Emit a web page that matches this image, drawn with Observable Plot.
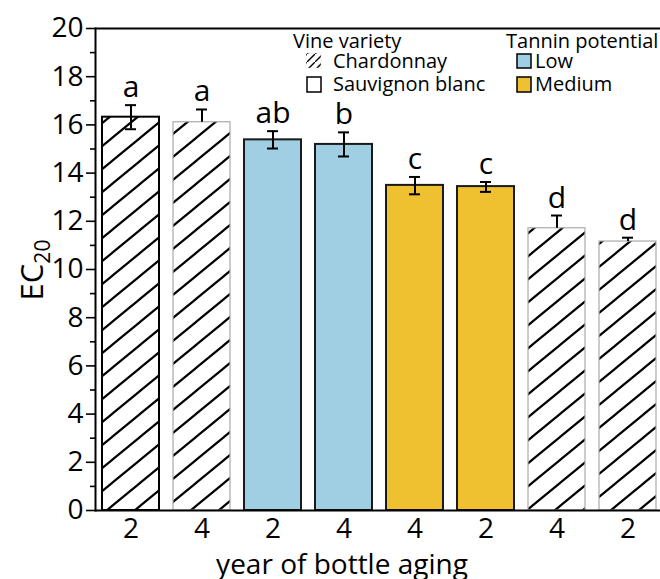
<!DOCTYPE html>
<html><head><meta charset="utf-8">
<script src="https://cdn.jsdelivr.net/npm/d3@7"></script>
<script src="https://cdn.jsdelivr.net/npm/@observablehq/plot@0.6"></script>
<style>
body{margin:0;background:#fff;}
#chart{position:relative;width:660px;height:579px;overflow:hidden;}
</style></head><body><div id="chart"></div>
<script>
const FONT = "'Open Sans', sans-serif";
const barIds = ["b1","b2","b3","b4","b5","b6","b7","b8"];
const yearLabels = ["2","4","2","4","4","2","4","2"];
const groups = ["Chardonnay","Chardonnay","Low","Low","Medium","Medium","Chardonnay","Chardonnay"];
const values = [16.32,16.11,15.38,15.19,13.49,13.44,11.71,11.16];
const errUp = [0.5,0.53,0.36,0.5,0.35,0.19,0.53,0.16];
const errDown = [0.5,0,0.36,0.5,0.37,0.22,0,0];
const letters = ["a","a","ab","b","c","c","d","d"];
const yTicks = [0,2,4,6,8,10,12,14,16,18,20];
const yMinor = [1,3,5,7,9,11,13,15,17,19];
const varietyTitle = "Vine variety";
const varietyLegend = ["Chardonnay","Sauvignon blanc"];
const tanninTitle = "Tannin potential";
const tanninLegend = ["Low","Medium"];
const colors = {Low: "#a0cfe3", Medium: "#efc02f"};
const xLabel = "year of bottle aging";

const data = barIds.map((id, i) => ({
  id, year: yearLabels[i], group: groups[i], value: values[i],
  up: values[i] + errUp[i], down: values[i] - errDown[i], letter: letters[i],
  hasDown: errDown[i] > 0, first: i === 0
}));
const labelOf = Object.fromEntries(data.map(d => [d.id, d.year]));

const defs = () => {
  const g = d3.create("svg:defs");
  const p = g.append("pattern").attr("id","hatch").attr("patternUnits","userSpaceOnUse")
    .attr("width",28).attr("height",23);
  p.append("rect").attr("width",28).attr("height",23).attr("fill","#fff");
  p.append("path").attr("d","M-5,27.1L33,-4.1M-5,4.1L5,-4.1M23,27.1L33,18.9")
    .attr("stroke","#000").attr("stroke-width",2.2).attr("fill","none");
  const q = g.append("pattern").attr("id","hatchSmall").attr("patternUnits","userSpaceOnUse")
    .attr("width",8).attr("height",8).attr("x",307).attr("y",54);
  q.append("rect").attr("width",8).attr("height",8).attr("fill","#fff");
  q.append("path").attr("d","M-2,10L10,-2").attr("stroke","#000").attr("stroke-width",1.4);
  return g.node();
};

const hatched = data.filter(d => d.group === "Chardonnay");
const colored = data.filter(d => d.group !== "Chardonnay");

const plot = Plot.plot({
  width: 660, height: 579,
  marginLeft: 95, marginRight: 0, marginTop: 28, marginBottom: 69,
  style: {fontFamily: FONT, background: "#fff", color: "#000", overflow: "visible"},
  x: {domain: barIds, range: [95, 663], paddingInner: 0.2, paddingOuter: 0.1, axis: null},
  y: {domain: [0, 20], axis: null},
  marks: [
    defs,
    Plot.barY(hatched, {x: "id", y: "value", fill: "url(#hatch)",
      stroke: d => d.first ? "#000" : "#aaa", strokeWidth: d => d.first ? 2 : 1.2}),
    Plot.barY(colored, {x: "id", y: "value", fill: d => colors[d.group], stroke: "#1a1a1a", strokeWidth: 2}),
    Plot.ruleX(data, {x: "id", y1: "value", y2: "up", stroke: "#000", strokeWidth: 2}),
    Plot.ruleX(data.filter(d => d.hasDown), {x: "id", y1: "down", y2: "value", stroke: "#000", strokeWidth: 2}),
    Plot.tickY(data, {x: "id", y: "up", insetLeft: 23, insetRight: 23, stroke: "#000", strokeWidth: 2}),
    Plot.tickY(data.filter(d => d.hasDown), {x: "id", y: "down", insetLeft: 23, insetRight: 23, stroke: "#000", strokeWidth: 2}),
    Plot.text(data, {x: "id", y: "up", text: "letter", dy: -8, lineAnchor: "bottom", fontSize: 30, fill: "#000"}),
    Plot.ruleY([0], {stroke: "#000", strokeWidth: 2}),
    Plot.ruleY([20], {stroke: "#000", strokeWidth: 2}),
    Plot.frame({anchor: "left", stroke: "#000", strokeWidth: 2}),
    Plot.axisY({ticks: yTicks, tickSize: 9, tickPadding: 3, fontSize: 28, label: null, strokeWidth: 1.6}),
    Plot.axisY({ticks: yMinor, tickSize: 5, tickFormat: () => "", label: null, strokeWidth: 1.6}),
    Plot.axisX({tickSize: 0, tickPadding: 8, tickFormat: d => labelOf[d], fontSize: 28, label: null}),
    Plot.text([xLabel], {frameAnchor: "bottom", text: d => d, dx: -36, dy: 63, lineAnchor: "bottom", fontSize: 28, fill: "#000"})
  ]
});
document.getElementById("chart").appendChild(plot);

const svg = d3.select(plot);
// y-axis title with subscript
const yt = svg.append("text").attr("font-family", FONT).attr("font-size", 31)
  .attr("text-anchor", "middle").attr("transform", "translate(43,270) rotate(-90)").attr("fill","#000");
yt.append("tspan").text("EC");
yt.append("tspan").attr("font-size", 21).attr("dy", 7).text("20");

// legend
const lg = svg.append("g").attr("font-family", FONT).attr("font-size", 20).attr("fill", "#000")
  .attr("text-anchor", "start");
lg.append("text").attr("x", 293).attr("y", 48).text(varietyTitle);
lg.append("rect").attr("x", 306).attr("y", 53).attr("width", 15).attr("height", 15)
  .attr("fill", "url(#hatchSmall)").attr("stroke", "#ddd").attr("stroke-width", 0.5);
lg.append("text").attr("x", 333).attr("y", 68).text(varietyLegend[0]);
lg.append("rect").attr("x", 307).attr("y", 77).attr("width", 14).attr("height", 15)
  .attr("fill", "#fff").attr("stroke", "#000").attr("stroke-width", 1.5);
lg.append("text").attr("x", 333).attr("y", 91).text(varietyLegend[1]);
lg.append("text").attr("x", 506).attr("y", 48).text(tanninTitle);
lg.append("rect").attr("x", 517).attr("y", 54).attr("width", 14).attr("height", 14)
  .attr("fill", colors.Low).attr("stroke", "#000").attr("stroke-width", 1.5);
lg.append("text").attr("x", 535).attr("y", 68).text(tanninLegend[0]);
lg.append("rect").attr("x", 517).attr("y", 77).attr("width", 14).attr("height", 15)
  .attr("fill", colors.Medium).attr("stroke", "#000").attr("stroke-width", 1.5);
lg.append("text").attr("x", 535).attr("y", 91).text(tanninLegend[1]);
</script></body></html>
